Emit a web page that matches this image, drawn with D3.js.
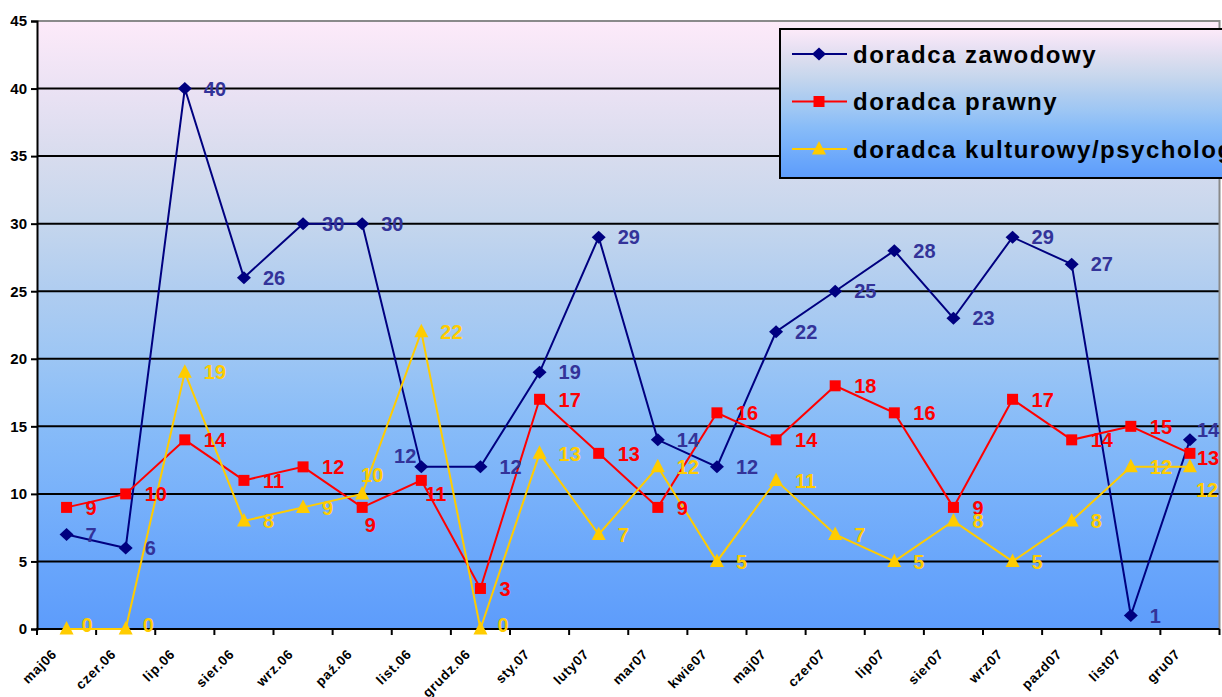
<!DOCTYPE html>
<html>
<head>
<meta charset="utf-8">
<script src="https://cdn.jsdelivr.net/npm/d3@7"></script>
<style>
  html, body { margin: 0; padding: 0; background: #ffffff; overflow: hidden; }
  svg { display: block; font-family: "Liberation Sans", Arial, sans-serif; }
</style>
</head>
<body>
<svg id="chart" width="1222" height="697"></svg>
<script>
// Months (x categories)
const months = ["maj06", "czer.06", "lip.06", "sier.06", "wrz.06", "paź.06", "list.06", "grudz.06",
  "sty.07", "luty07", "mar07", "kwie07", "maj07", "czer07", "lip07", "sier07", "wrz07", "pazd07", "list07", "gru07"];

// Number of consultations per month
const zawodowy  = [7, 6, 40, 26, 30, 30, 12, 12, 19, 29, 14, 12, 22, 25, 28, 23, 29, 27, 1, 14];
const prawny    = [9, 10, 14, 11, 12, 9, 11, 3, 17, 13, 9, 16, 14, 18, 16, 9, 17, 14, 15, 13];
const kulturowy = [0, 0, 19, 8, 9, 10, 22, 0, 13, 7, 12, 5, 11, 7, 5, 8, 5, 8, 12, 12];

const seriesNames = ["doradca zawodowy", "doradca prawny", "doradca kulturowy/psycholog"];
const yTicks = [0, 5, 10, 15, 20, 25, 30, 35, 40, 45];

// Styling per series
const styles = [
  { values: zawodowy,  line: "#000080", marker: "diamond",  label: "#333399" },
  { values: prawny,    line: "#ff0000", marker: "square",   label: "#ff0000" },
  { values: kulturowy, line: "#ffcc00", marker: "triangle", label: "#ffcc00" }
];

// Label placement tweaks where the default (to the right) would collide: [series, index, dx, dy, anchor]
const labelTweaks = [
  [0, 6, -5, -11, "end"],
  [0, 19, 7, -10, "start"],
  [1, 5, 8, 17, "middle"],
  [1, 6, 4, 13, "start"],
  [1, 19, 7, 4, "start"],
  [2, 0, 15, -4, "start"],
  [2, 1, 17, -4, "start"],
  [2, 7, 17, -4, "start"],
  [2, 5, 10, -19, "middle"],
  [2, 19, 6, 23, "start"]
];

const svg = d3.select("#chart");
const m = { left: 37, right: 1219.5, top: 21, bottom: 629 };

const x = d3.scaleBand().domain(months).range([m.left, m.right]).paddingInner(0).paddingOuter(0);
const y = d3.scaleLinear().domain([0, 45]).range([m.bottom, m.top]);
const cx = d => x(d) + x.bandwidth() / 2;

const defs = svg.append("defs");
function addGradient(id) {
  const g = defs.append("linearGradient").attr("id", id)
    .attr("x1", 0).attr("y1", 0).attr("x2", 0).attr("y2", 1);
  [[0, "#fdeaf9"], [0.11, "#ebe2f4"], [0.22, "#d8dcee"], [0.33, "#c5d6ed"], [0.44, "#b0cdf0"],
   [0.55, "#9dc6f4"], [0.66, "#88bcf8"], [0.78, "#78b1fa"], [0.89, "#69a6fb"], [1, "#5d9cfb"]]
    .forEach(([o, c]) => g.append("stop").attr("offset", o).attr("stop-color", c));
}
addGradient("plotBg");
addGradient("legendBg");

// Plot background
svg.append("rect")
  .attr("x", m.left).attr("y", m.top)
  .attr("width", m.right - m.left).attr("height", m.bottom - m.top)
  .attr("fill", "url(#plotBg)");

// Horizontal gridlines
svg.append("g").selectAll("line")
  .data(yTicks.filter(t => t > 0 && t < 45))
  .join("line")
  .attr("x1", m.left).attr("x2", m.right)
  .attr("y1", d => y(d)).attr("y2", d => y(d))
  .attr("stroke", "#000").attr("stroke-width", 2);

// Plot frame (top and right in grey)
svg.append("path")
  .attr("d", `M${m.left},${m.top}H${m.right}V${m.bottom}`)
  .attr("fill", "none").attr("stroke", "#8a8a8a").attr("stroke-width", 2);

// Y axis
const yAxis = svg.append("g").attr("transform", `translate(${m.left},0)`)
  .call(d3.axisLeft(y).tickValues(yTicks).tickSize(6).tickPadding(4));
yAxis.select(".domain").attr("stroke", "#000").attr("stroke-width", 2);
yAxis.selectAll(".tick line").attr("stroke", "#000").attr("stroke-width", 2);
yAxis.selectAll(".tick text")
  .attr("fill", "#000").attr("font-size", 15).attr("font-weight", "bold")
  .attr("font-family", "'Liberation Sans', Arial, sans-serif");

// X axis: ticks on band boundaries, labels at band centres
const xAxisG = svg.append("g");
xAxisG.append("line")
  .attr("x1", m.left - 1).attr("x2", m.right)
  .attr("y1", m.bottom).attr("y2", m.bottom)
  .attr("stroke", "#000").attr("stroke-width", 2);
const boundaries = months.map(d => x(d)).concat([m.right]);
xAxisG.selectAll("line.tk").data(boundaries).join("line").attr("class", "tk")
  .attr("x1", d => d).attr("x2", d => d)
  .attr("y1", m.bottom).attr("y2", m.bottom + 6)
  .attr("stroke", "#000").attr("stroke-width", 2);
xAxisG.selectAll("text").data(months).join("text")
  .attr("transform", d => `translate(${cx(d) - 9},${m.bottom + 26}) rotate(-45)`)
  .attr("text-anchor", "end")
  .attr("font-size", 13.5).attr("font-weight", "bold")
  .attr("letter-spacing", 0.7)
  .attr("fill", "#000")
  .text(d => d);

// Marker shapes
function markerPath(kind) {
  if (kind === "diamond") return "M0,-6.5L7,0L0,6.5L-7,0Z";
  if (kind === "square") return "M-5.5,-5.5H5.5V5.5H-5.5Z";
  return "M0,-8L7,5.5L-7,5.5Z";
}

const line = d3.line().x((d, i) => cx(months[i])).y(d => y(d));

styles.forEach(s => {
  svg.append("path").datum(s.values)
    .attr("d", line)
    .attr("fill", "none").attr("stroke", s.line).attr("stroke-width", 2)
    .attr("stroke-linejoin", "miter");
});

styles.forEach(s => {
  svg.append("g").selectAll("path").data(s.values).join("path")
    .attr("d", markerPath(s.marker))
    .attr("transform", (d, i) => `translate(${cx(months[i])},${y(d)})`)
    .attr("fill", s.line);
});

// Value labels
styles.forEach((s, si) => {
  svg.append("g").selectAll("text").data(s.values).join("text")
    .each(function (d, i) {
      const t = labelTweaks.find(k => k[0] === si && k[1] === i);
      const dx = t ? t[2] : 19, dy = t ? t[3] : 0, anchor = t ? t[4] : "start";
      d3.select(this)
        .attr("x", cx(months[i]) + dx)
        .attr("y", y(d) + dy)
        .attr("text-anchor", anchor);
    })
    .attr("dy", "0.36em")
    .attr("font-size", 20).attr("font-weight", "bold")
    .attr("fill", s.label)
    .text(d => d);
});

// Legend
const lg = svg.append("g").attr("transform", "translate(780,29)");
lg.append("rect").attr("x", 0).attr("y", 0).attr("width", 460).attr("height", 149)
  .attr("fill", "url(#legendBg)").attr("stroke", "#000").attr("stroke-width", 2);
styles.forEach((s, si) => {
  const ry = 25 + si * 47.5;
  lg.append("line").attr("x1", 12).attr("x2", 67).attr("y1", ry).attr("y2", ry)
    .attr("stroke", s.line).attr("stroke-width", 2);
  lg.append("path").attr("d", markerPath(s.marker))
    .attr("transform", `translate(${39},${ry})`).attr("fill", s.line);
  lg.append("text").attr("x", 73).attr("y", ry).attr("dy", "0.36em")
    .attr("font-size", 24).attr("font-weight", "bold").attr("letter-spacing", 1.5)
    .attr("fill", "#000")
    .text(seriesNames[si]);
});
</script>
</body>
</html>
